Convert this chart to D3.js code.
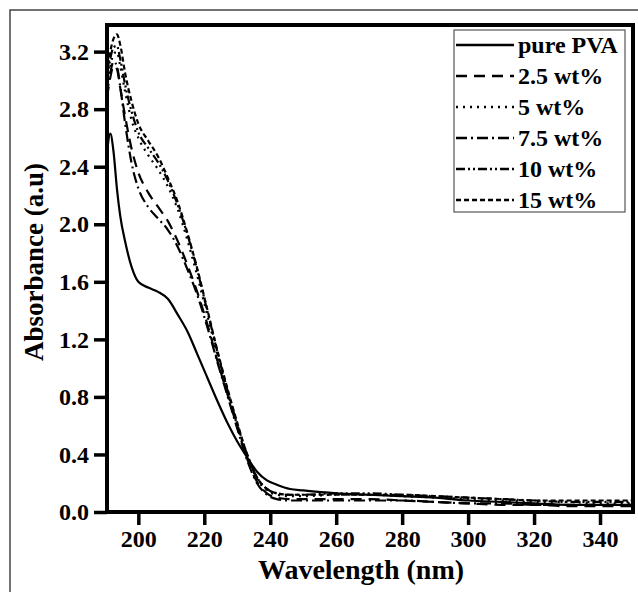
<!DOCTYPE html>
<html>
<head>
<meta charset="utf-8">
<script src="https://cdn.jsdelivr.net/npm/d3@7"></script>
<style>
  body { margin: 0; background: #fff; }
  svg { display: block; }
  text { font-family: "Liberation Serif", "Times New Roman", serif; font-weight: bold; fill: #000; }
</style>
</head>
<body>
<div id="chart"></div>
<script>
// wavelengths (nm) the curves are sampled at
var wavelength = [190.5, 191.5, 192.5, 193.5, 194.5, 196, 198, 200, 203, 206, 209, 212, 215, 218, 221, 224, 227, 230, 233, 236, 239, 242, 246, 250, 260, 270, 280, 290, 300, 310, 320, 330, 340, 350];

var purePVA = [2.50, 2.63, 2.50, 2.25, 2.06, 1.88, 1.70, 1.60, 1.56, 1.53, 1.48, 1.37, 1.25, 1.09, 0.93, 0.77, 0.62, 0.49, 0.38, 0.28, 0.22, 0.19, 0.16, 0.15, 0.13, 0.12, 0.11, 0.10, 0.08, 0.07, 0.06, 0.05, 0.05, 0.05];
var wt2_5 = [2.88, 3.02, 3.10, 3.08, 2.95, 2.75, 2.52, 2.36, 2.22, 2.12, 2.02, 1.88, 1.71, 1.52, 1.30, 1.05, 0.82, 0.59, 0.37, 0.21, 0.13, 0.10, 0.09, 0.09, 0.09, 0.09, 0.08, 0.07, 0.06, 0.05, 0.05, 0.04, 0.04, 0.04];
var wt5 = [2.95, 3.10, 3.18, 3.20, 3.10, 2.92, 2.72, 2.60, 2.48, 2.38, 2.26, 2.10, 1.88, 1.63, 1.36, 1.09, 0.84, 0.60, 0.39, 0.23, 0.15, 0.12, 0.11, 0.11, 0.12, 0.12, 0.11, 0.10, 0.09, 0.08, 0.07, 0.07, 0.06, 0.06];
var wt7_5 = [2.90, 3.05, 3.13, 3.10, 2.96, 2.70, 2.42, 2.25, 2.12, 2.04, 1.96, 1.84, 1.68, 1.50, 1.28, 1.04, 0.81, 0.58, 0.36, 0.20, 0.12, 0.09, 0.08, 0.08, 0.08, 0.08, 0.08, 0.07, 0.06, 0.06, 0.05, 0.05, 0.05, 0.05];
var wt10 = [3.00, 3.15, 3.23, 3.24, 3.15, 2.97, 2.78, 2.64, 2.53, 2.43, 2.30, 2.13, 1.92, 1.67, 1.39, 1.11, 0.85, 0.61, 0.40, 0.24, 0.16, 0.13, 0.12, 0.12, 0.13, 0.13, 0.12, 0.11, 0.10, 0.09, 0.08, 0.07, 0.07, 0.07];
var wt15 = [3.05, 3.20, 3.29, 3.32, 3.25, 3.05, 2.85, 2.70, 2.58, 2.47, 2.32, 2.15, 1.93, 1.68, 1.40, 1.12, 0.86, 0.62, 0.40, 0.24, 0.16, 0.13, 0.12, 0.12, 0.12, 0.12, 0.12, 0.11, 0.10, 0.09, 0.08, 0.08, 0.08, 0.08];

var seriesNames = ["pure PVA", "2.5 wt%", "5 wt%", "7.5 wt%", "10 wt%", "15 wt%"];
var seriesValues = [purePVA, wt2_5, wt5, wt7_5, wt10, wt15];
var dashes = ["none", "11,7", "2,5", "11,4,2,4", "9,3,2,3,2,3", "5,3"];

var xTicks = [200, 220, 240, 260, 280, 300, 320, 340];
var yTicks = [0.0, 0.4, 0.8, 1.2, 1.6, 2.0, 2.4, 2.8, 3.2];

var width = 638, height = 592;
var margin = {left: 107, top: 25, right: 5, bottom: 80};

var svg = d3.select("#chart").append("svg")
    .attr("width", width)
    .attr("height", height);

//outer thin frame of the figure
svg.append("rect")
    .attr("x", 10).attr("y", 10)
    .attr("width", 700).attr("height", 700)
    .attr("fill", "none")
    .attr("stroke", "#444")
    .attr("stroke-width", 1.5);

var x = d3.scaleLinear()
    .domain([190.5, 350])
    .range([margin.left, width - margin.right]);

var y = d3.scaleLinear()
    .domain([0, 3.385])
    .range([height - margin.bottom, margin.top]);

//axes
var xAxis = d3.axisBottom(x)
    .tickValues(xTicks)
    .tickSize(13)
    .tickPadding(5)
    .tickFormat(d3.format("d"));

var yAxis = d3.axisLeft(y)
    .tickValues(yTicks)
    .tickSize(13)
    .tickPadding(5)
    .tickFormat(d3.format(".1f"));

var gx = svg.append("g")
    .attr("transform", "translate(0," + y(0) + ")")
    .call(xAxis);

var gy = svg.append("g")
    .attr("transform", "translate(" + x.range()[0] + ",0)")
    .call(yAxis);

gx.select(".domain").remove();
gy.select(".domain").remove();

svg.selectAll(".tick line")
    .attr("stroke", "#000")
    .attr("stroke-width", 3.5);

svg.selectAll(".tick text")
    .style("font-size", "24px");

//curves
var line = d3.line()
    .x(function(d){ return x(d[0]); })
    .y(function(d){ return y(d[1]); })
    .curve(d3.curveMonotoneX);

var plot = svg.append("g");

seriesValues.forEach(function(vals, i){
    var pts = wavelength.map(function(w, j){ return [w, vals[j]]; });
    plot.append("path")
        .datum(pts)
        .attr("d", line)
        .attr("fill", "none")
        .attr("stroke", "#000")
        .attr("stroke-width", 2.2)
        .attr("stroke-dasharray", dashes[i]);
});

//plot frame (thick)
svg.append("rect")
    .attr("x", x.range()[0])
    .attr("y", y.range()[1])
    .attr("width", x.range()[1] - x.range()[0])
    .attr("height", y.range()[0] - y.range()[1])
    .attr("fill", "none")
    .attr("stroke", "#000")
    .attr("stroke-width", 4);

//axis titles
svg.append("text")
    .attr("x", 361)
    .attr("y", 579)
    .attr("text-anchor", "middle")
    .style("font-size", "28px")
    .text("Wavelength (nm)");

svg.append("text")
    .attr("transform", "translate(43,262) rotate(-90)")
    .attr("text-anchor", "middle")
    .style("font-size", "27px")
    .text("Absorbance (a.u)");

//legend
var legend = svg.append("g");

legend.append("rect")
    .attr("x", 454).attr("y", 30)
    .attr("width", 171).attr("height", 182)
    .attr("fill", "#fff")
    .attr("stroke", "#555")
    .attr("stroke-width", 1.2);

seriesNames.forEach(function(name, i){
    var cy = 45 + i * 31;
    legend.append("line")
        .attr("x1", 456).attr("x2", 514)
        .attr("y1", cy).attr("y2", cy)
        .attr("stroke", "#000")
        .attr("stroke-width", 2.5)
        .attr("stroke-dasharray", dashes[i]);
    legend.append("text")
        .attr("x", 518)
        .attr("y", cy + 8)
        .style("font-size", "24px")
        .text(name);
});
</script>
</body>
</html>
